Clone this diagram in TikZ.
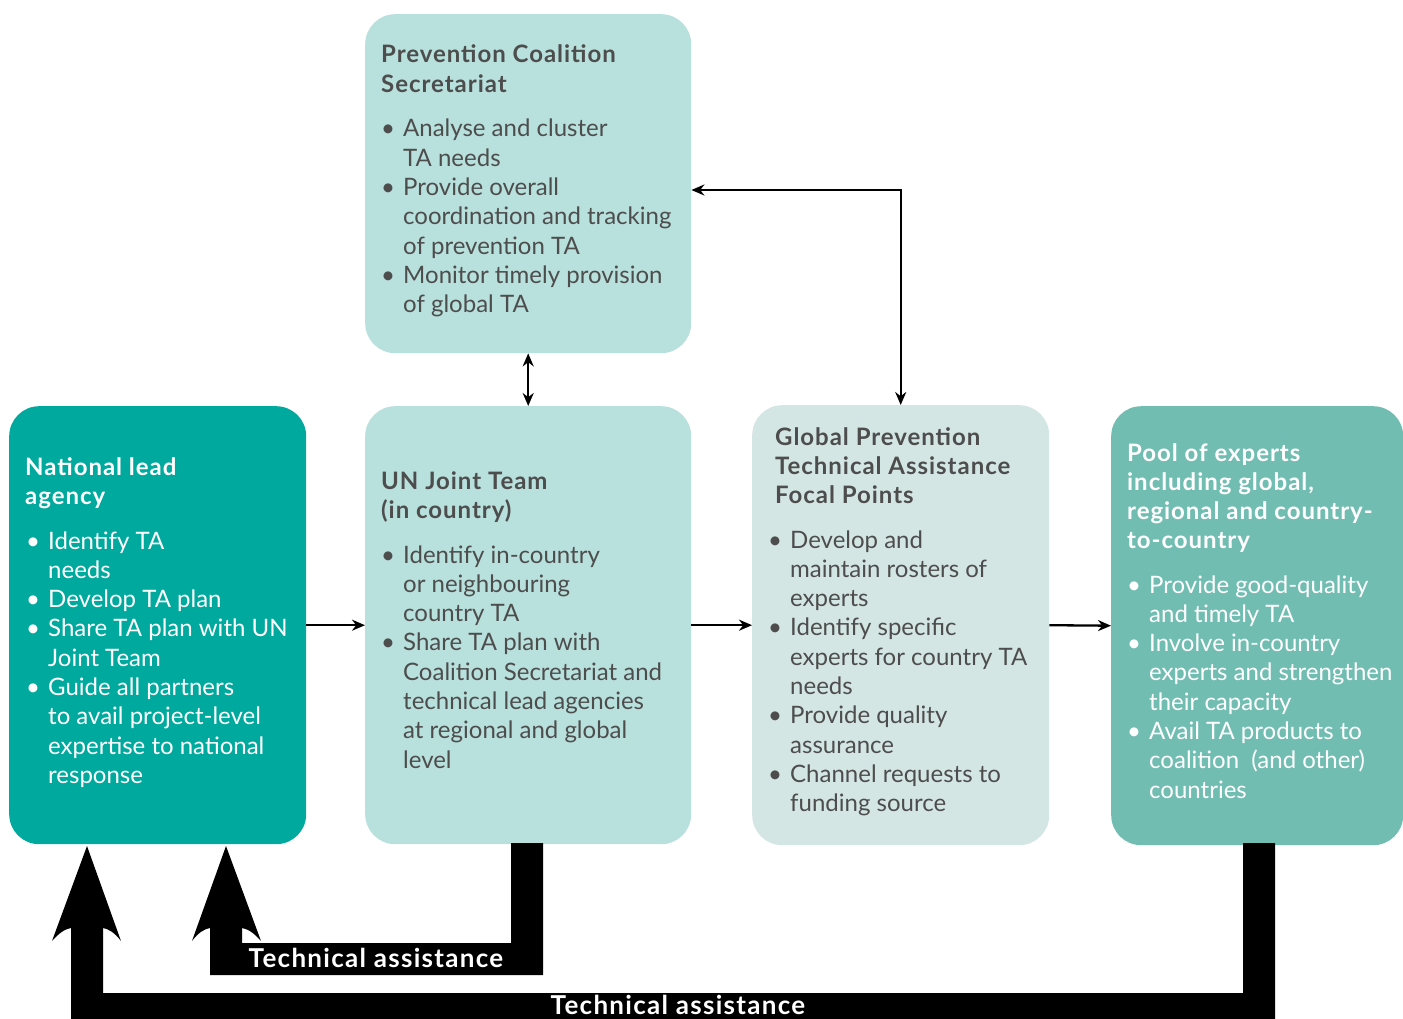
\documentclass[tikz,border=0pt]{standalone}
\usepackage{fontspec}
\setmainfont{Lato}
\usetikzlibrary{arrows.meta}
\definecolor{natc}{HTML}{00A99D}
\definecolor{lightc}{HTML}{B8E0DC}
\definecolor{globc}{HTML}{D4E6E4}
\definecolor{poolc}{HTML}{71BDB2}
\definecolor{txtc}{HTML}{4D4D4D}
\newlength\bw \setlength\bw{22pt}
\newcommand\bu{\makebox[\bw][l]{\textbullet}}
\newcommand\ind{\hspace*{\bw}}
\newcommand\Ln[1]{\hbox{#1}}
\newcommand\Blk[1]{\vtop{\baselineskip=29.3pt\lineskiplimit=-100pt\lineskip=0pt #1}}
\tikzset{
  box/.style={draw=none, rounded corners=30pt, inner sep=0pt, anchor=north west},
  head/.style={anchor=base west, inner sep=0pt, font=\fontsize{24}{29.3}\selectfont\bfseries\addfontfeatures{LetterSpace=4}},
  body/.style={anchor=base west, inner sep=0pt, font=\fontsize{24}{29.3}\selectfont},
  both/.style={line width=2.3pt, {Stealth[length=13pt,width=11pt]}-{Stealth[length=13pt,width=11pt]}},
  one/.style={line width=2.3pt, -{Stealth[length=13pt,width=11pt]}},
  ta/.style={font=\fontsize{26}{26}\selectfont\bfseries\addfontfeatures{LetterSpace=5}, text=white, inner sep=0pt, anchor=base}
}
\begin{document}
\begin{tikzpicture}[x=1pt,y=-1pt]
\useasboundingbox[fill=white] (0,0) rectangle (1403,1019);
\clip (0,0) rectangle (1403,1019);
% boxes
\node[box, fill=lightc, minimum width=326pt, minimum height=339pt] (sec) at (365,14) {};
\node[box, fill=natc, minimum width=297pt, minimum height=438pt] (nat) at (9,406) {};
\node[box, fill=lightc, minimum width=326pt, minimum height=438pt] (un) at (365,406) {};
\node[box, fill=globc, minimum width=297pt, minimum height=440pt] (glob) at (752,405) {};
\node[box, fill=poolc, minimum width=292pt, minimum height=439pt] (pool) at (1111,406) {};
% texts
\node[head, text=txtc] (sech) at (381,63) {\Blk{\Ln{Prevention Coalition}\Ln{Secretariat}}};
\node[body, text=txtc] (secb) at (381,137) {\Blk{\Ln{\bu Analyse and cluster}\Ln{\ind TA needs}\Ln{\bu Provide overall}\Ln{\ind coordination and tracking}\Ln{\ind of prevention TA}\Ln{\bu Monitor timely provision}\Ln{\ind of global TA}}};
\node[head, text=white] (nath) at (25,475) {\Blk{\Ln{National lead}\Ln{agency}}};
\node[body, text=white] (natb) at (26,549) {\Blk{\Ln{\bu Identify TA}\Ln{\ind needs}\Ln{\bu Develop TA plan}\Ln{\bu Share TA plan with UN}\Ln{\ind Joint Team}\Ln{\bu Guide all partners}\Ln{\ind to avail project-level}\Ln{\ind expertise to national}\Ln{\ind response}}};
\node[head, text=txtc] (unh) at (381,489) {\Blk{\Ln{UN Joint Team}\Ln{(in country)}}};
\node[body, text=txtc] (unb) at (381,563) {\Blk{\Ln{\bu Identify in-country}\Ln{\ind or neighbouring}\Ln{\ind country TA}\Ln{\bu Share TA plan with}\Ln{\ind Coalition Secretariat and}\Ln{\ind technical lead agencies}\Ln{\ind at regional and global}\Ln{\ind level}}};
\node[head, text=txtc] (globh) at (775,445) {\Blk{\Ln{Global Prevention}\Ln{Technical Assistance}\Ln{Focal Points}}};
\node[body, text=txtc] (globb) at (768,548) {\Blk{\Ln{\bu Develop and}\Ln{\ind maintain rosters of}\Ln{\ind experts}\Ln{\bu Identify specific}\Ln{\ind experts for country TA}\Ln{\ind needs}\Ln{\bu Provide quality}\Ln{\ind assurance}\Ln{\bu Channel requests to}\Ln{\ind funding source}}};
\node[head, text=white] (poolh) at (1127,461) {\Blk{\Ln{Pool of experts}\Ln{including global,}\Ln{regional and country-}\Ln{to-country}}};
\node[body, text=white] (poolb) at (1127,593) {\Blk{\Ln{\bu Provide good-quality}\Ln{\ind and timely TA}\Ln{\bu Involve in-country}\Ln{\ind experts and strengthen}\Ln{\ind their capacity}\Ln{\bu Avail TA products to}\Ln{\ind coalition\ \ (and other)}\Ln{\ind countries}}};
% thin connectors
\draw[one] (nat.east) -- (un.west);
\draw[one] (un.east) -- (glob.west);
\draw[one] (glob.east) -- (pool.west);
\draw[both] (sec.south) -- (un.north);
\draw[both] (glob.north) |- (sec.east |- 0,190);
% thick technical assistance arrows
\fill[black] (226,846) -- (261,941) .. controls (254,933) and (248,929) .. (242,928) -- (242,943) -- (511,943) -- (511,843) -- (543,843) -- (543,975) -- (210,975) -- (210,928) .. controls (204,929) and (198,933) .. (192,941) -- cycle;
\fill[black] (87,846) -- (121,941) .. controls (115,933) and (109,929) .. (103,928) -- (103,993) -- (1243,993) -- (1243,843) -- (1275,843) -- (1275,1030) -- (71,1030) -- (71,928) .. controls (65,929) and (59,933) .. (52,941) -- cycle;
\node[ta] (ta1) at (376,967) {Technical assistance};
\node[ta] (ta2) at (678,1014) {Technical assistance};
\end{tikzpicture}
\end{document}
